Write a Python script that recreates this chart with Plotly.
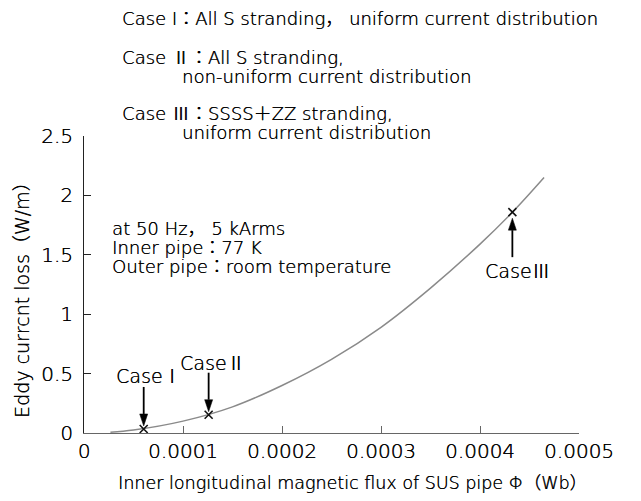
import plotly.graph_objects as go

# ---- data ----
flux_curve = [0.267e-4, 0.5e-4, 1.0e-4, 1.5e-4, 2.0e-4, 2.5e-4, 3.0e-4, 3.5e-4, 4.0e-4, 4.33e-4, 4.647e-4]
loss_curve = [0.007, 0.025, 0.10, 0.22, 0.40, 0.62, 0.89, 1.22, 1.59, 1.86, 2.15]

case_names = ["Case", "Case", "Case"]
case_numerals = ["Ⅰ", "Ⅱ", "Ⅲ"]
case_flux = [0.603e-4, 1.259e-4, 4.327e-4]
case_loss = [0.034, 0.154, 1.859]

x_ticks = [0, 0.0001, 0.0002, 0.0003, 0.0004, 0.0005]
x_tick_labels = ["0", "0.0001", "0.0002", "0.0003", "0.0004", "0.0005"]
y_ticks = [0, 0.5, 1, 1.5, 2, 2.5]
y_tick_labels = ["0", "0.5", "1", "1.5", "2", "2.5"]

CJK = "Noto Sans CJK JP"
legend_lines = [
    "Case I：All S stranding， uniform current distribution",
    f"Case <span style='font-family:{CJK}'>Ⅱ</span>：All S stranding,",
    "non-uniform current distribution",
    f"Case <span style='font-family:{CJK}'>Ⅲ</span>：SSSS＋ZZ stranding,",
    "uniform current distribution",
]
condition_lines = [
    "at 50 Hz， 5 kArms",
    "Inner pipe：77 K",
    "Outer pipe：room temperature",
]
x_title = "Inner longitudinal magnetic flux of SUS pipe Φ（Wb）"
y_title = "Eddy currcnt loss（W/m）"

# ---- layout helpers ----
W, H = 641, 501
ML, MR, MT, MB = 84, 62, 136, 68
PW, PH = W - ML - MR, H - MT - MB
FONT = "DejaVu Sans, Noto Sans CJK JP"
TXT = "#000000"


def px(x):
    return (x - ML) / PW


def py(y):
    return (H - MB - y) / PH


def f(size):
    return dict(family=FONT, size=size, color=TXT, weight=200, shadow="0.35px 0 0 #000")


fig = go.Figure()
fig.add_trace(go.Scatter(
    x=flux_curve, y=loss_curve, mode="lines",
    line=dict(color="#8a8a8a", width=1.5, shape="spline"),
    hoverinfo="skip", showlegend=False,
))
fig.add_trace(go.Scatter(
    x=case_flux, y=case_loss, mode="markers",
    marker=dict(symbol="x-thin", size=8, line=dict(color="#111", width=1.6)),
    showlegend=False,
))

annotations = []
leg_pos = [(120, 18), (120, 56), (180, 77), (120, 112), (180, 133)]
for t, (xx, yy) in zip(legend_lines, leg_pos):
    annotations.append(dict(text=t, xref="paper", yref="paper", x=px(xx), y=py(yy),
                            xanchor="left", yanchor="middle", showarrow=False, font=f(18)))
cond_pos = [(110, 228), (110, 247), (110, 266)]
for t, (xx, yy) in zip(condition_lines, cond_pos):
    annotations.append(dict(text=t, xref="paper", yref="paper", x=px(xx), y=py(yy),
                            xanchor="left", yanchor="middle", showarrow=False, font=f(18)))

# axis titles placed as in the reference (slightly off-centre)
annotations.append(dict(text=x_title, xref="paper", yref="paper", x=px(352), y=py(483),
                        xanchor="center", yanchor="middle", showarrow=False, font=f(17.5)))
annotations.append(dict(text=y_title, xref="paper", yref="paper", x=px(22), y=py(296),
                        xanchor="center", yanchor="middle", textangle=-90, showarrow=False,
                        font=f(19)))

label_shift = [(5, 54), (4, 53), (6, -57)]
arrow_geo = [(3, 15, 42), (3, 15, 42), (-6, -18, -45)]  # tip, head base, tail (px, up positive)
shapes = []
for name, num, fx, ly, (dx, dy), (tip, base, tail) in zip(case_names, case_numerals, case_flux, case_loss,
                                                          label_shift, arrow_geo):
    lab = f"{name}<span style='font-family:{CJK}'>{num}</span>"
    annotations.append(dict(text=lab, x=fx, y=ly, xref="x", yref="y", xshift=dx, yshift=dy,
                            showarrow=False, xanchor="center", yanchor="middle", font=f(19)))
    shapes.append(dict(type="line", xref="x", yref="y", xsizemode="pixel", ysizemode="pixel",
                       xanchor=fx, yanchor=ly, x0=0, x1=0, y0=base, y1=tail,
                       line=dict(color="#000", width=1.8)))
    shapes.append(dict(type="path", xref="x", yref="y", xsizemode="pixel", ysizemode="pixel",
                       xanchor=fx, yanchor=ly,
                       path=f"M-4,{base} L4,{base} L0,{tip} Z",
                       fillcolor="#000", line=dict(color="#000", width=0.5)))

fig.update_layout(
    width=W, height=H,
    margin=dict(l=ML, r=MR, t=MT, b=MB),
    paper_bgcolor="white", plot_bgcolor="white",
    font=dict(family=FONT, color=TXT),
    annotations=annotations, shapes=shapes,
    xaxis=dict(range=[0, 0.0005], tickvals=x_ticks, ticktext=x_tick_labels,
               showgrid=False, zeroline=False, showline=True, linecolor="#666", linewidth=1.2,
               ticks="inside", ticklen=7, tickcolor="#666", tickwidth=1.2,
               tickfont=f(20)),
    yaxis=dict(range=[0, 2.5], tickvals=y_ticks, ticktext=y_tick_labels,
               showgrid=False, zeroline=False, showline=True, linecolor="#222", linewidth=1.2,
               ticks="inside", ticklen=7, tickcolor="#222", tickwidth=1.2,
               tickfont=f(20), ticklabelstandoff=6),
)

fig.write_html("out.html")
